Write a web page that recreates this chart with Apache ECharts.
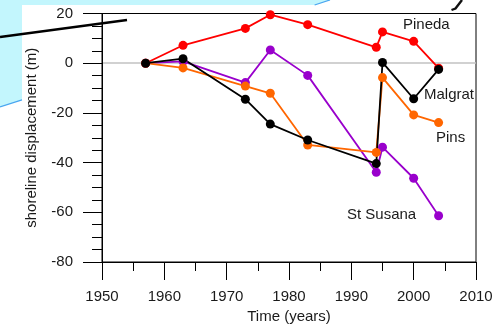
<!DOCTYPE html>
<html>
<head>
<meta charset="utf-8">
<style>
  html, body { margin: 0; padding: 0; background: #fff; }
  #chart { width: 500px; height: 324px; }
</style>
<script src="https://cdn.jsdelivr.net/npm/echarts@6/dist/echarts.min.js"></script>
</head>
<body>
<div id="chart"></div>
<script>
// Survey years and shoreline displacement (m) for each beach
const years = [1957, 1963, 1973, 1977, 1983, 1994, 1995, 2000, 2004];
const pineda = [0, 7.2, 14.0, 19.5, 15.5, 6.4, 12.6, 8.8, -2.0];
const stSusana = [0, 0.7, -7.8, 5.3, -4.9, -43.9, -33.8, -46.3, -61.4];
const pins = [0, -1.9, -9.2, -12.1, -32.9, -35.9, -5.8, -20.8, -23.9];
const malgrat = [0, 1.8, -14.5, -24.5, -30.9, -40.4, 0.3, -14.3, -2.5];

const yTicks = [-80, -60, -40, -20, 0, 20];
const xTicks = [1950, 1960, 1970, 1980, 1990, 2000, 2010];

const FONT = '"Liberation Sans", Arial, sans-serif';
const pairs = (vals) => years.map((y, i) => [y, vals[i]]);

const chart = echarts.init(document.getElementById('chart'), null, { renderer: 'canvas' });

function beach(name, color, vals) {
  return {
    name: name,
    type: 'line',
    data: pairs(vals),
    symbol: 'circle',
    symbolSize: 9,
    showSymbol: true,
    lineStyle: { color: color, width: 1.8 },
    itemStyle: { color: color },
    emphasis: { disabled: true },
    animation: false
  };
}

chart.setOption({
  backgroundColor: '#ffffff',
  animation: false,
  textStyle: { fontFamily: FONT },
  grid: {
    left: 102, top: 13.5, width: 374, height: 248.5,
    outerBoundsMode: 'none',
    containLabel: false,
    show: true, borderColor: '#000', borderWidth: 1, backgroundColor: 'transparent'
  },
  xAxis: {
    type: 'value',
    min: xTicks[0], max: xTicks[xTicks.length - 1], interval: 10,
    name: 'Time (years)',
    nameLocation: 'middle',
    nameGap: 42,
    nameTextStyle: { fontFamily: FONT, fontSize: 15, color: '#1a1a1a' },
    axisLine: { show: true, onZero: false, lineStyle: { color: '#000', width: 1 } },
    axisTick: { show: true, inside: false, length: 18, lineStyle: { color: '#000', width: 1 } },
    minorTick: { show: true, splitNumber: 2, length: 9, lineStyle: { color: '#000', width: 1 } },
    splitLine: { show: false },
    axisLabel: {
      fontFamily: FONT, fontSize: 15, color: '#1a1a1a', margin: 27,
      formatter: (v) => String(v)
    }
  },
  yAxis: {
    type: 'value',
    min: yTicks[0], max: yTicks[yTicks.length - 1], interval: 20,
    name: 'shoreline displacement (m)',
    nameLocation: 'middle',
    nameRotate: 90,
    nameGap: 63,
    nameTextStyle: { fontFamily: FONT, fontSize: 15, color: '#1a1a1a' },
    axisLine: { show: true, onZero: false, lineStyle: { color: '#000', width: 1 } },
    axisTick: { show: true, inside: false, length: 19, lineStyle: { color: '#000', width: 1 } },
    minorTick: { show: true, splitNumber: 4, length: 10, lineStyle: { color: '#000', width: 1 } },
    splitLine: {
      show: true,
      lineStyle: {
        width: 1.5,
        color: yTicks.map((v) => (v === 0 ? '#c2c2c2' : 'rgba(0,0,0,0)'))
      }
    },
    axisLabel: { fontFamily: FONT, fontSize: 15, color: '#1a1a1a', margin: 29 }
  },
  series: [
    beach('Pineda', '#ff0000', pineda),
    beach('St Susana', '#9900cc', stSusana),
    beach('Pins', '#ff6600', pins),
    beach('Malgrat', '#000000', malgrat)
  ],
  graphic: [
    // slide backdrop around the chart panel
    {
      type: 'polygon', silent: true, z: 0,
      shape: { points: [[0, 0], [330, 0], [314.6, 5], [22, 5], [22, 99.9], [0, 107]] },
      style: { fill: '#c3f6fd', stroke: null }
    },
    {
      type: 'polyline', silent: true, z: 1,
      shape: { points: [[0, 107], [22, 99.9]] },
      style: { stroke: '#4aa6f0', lineWidth: 1.3, fill: null }
    },
    {
      type: 'polyline', silent: true, z: 1,
      shape: { points: [[314.6, 5], [330, 0]] },
      style: { stroke: '#4aa6f0', lineWidth: 1.3, fill: null }
    },
    {
      type: 'line', silent: true, z: 100,
      shape: { x1: 0, y1: 37, x2: 127, y2: 20 },
      style: { stroke: '#000', lineWidth: 2.5 }
    },
    {
      type: 'polyline', silent: true, z: 100,
      shape: { points: [[462, 0], [455.5, 8.5], [451.5, 10]] },
      style: { stroke: '#111', lineWidth: 2.4, fill: null }
    },
    // beach names
    {
      type: 'text', silent: true, z: 50, left: 403, top: 17,
      style: { text: 'Pineda', fontFamily: FONT, fontSize: 15, fill: '#1a1a1a' }
    },
    {
      type: 'text', silent: true, z: 50, left: 424, top: 87,
      style: { text: 'Malgrat', fontFamily: FONT, fontSize: 15, fill: '#1a1a1a' }
    },
    {
      type: 'text', silent: true, z: 50, left: 436, top: 130,
      style: { text: 'Pins', fontFamily: FONT, fontSize: 15, fill: '#1a1a1a' }
    },
    {
      type: 'text', silent: true, z: 50, left: 347, top: 207,
      style: { text: 'St Susana', fontFamily: FONT, fontSize: 15, fill: '#1a1a1a' }
    }
  ]
});
</script>
</body>
</html>
